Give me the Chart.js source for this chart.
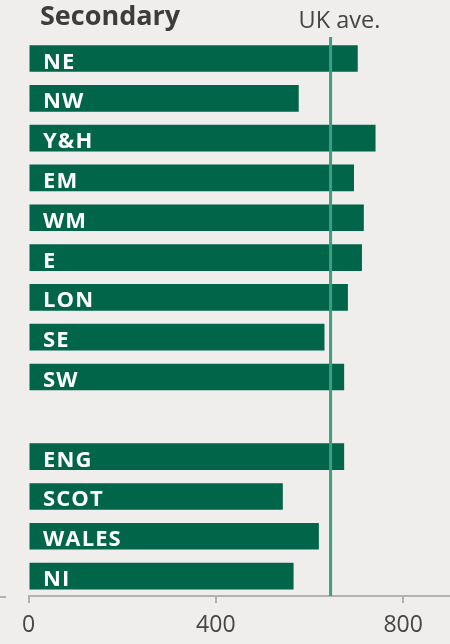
<!DOCTYPE html>
<html>
<head>
<meta charset="utf-8">
<script src="https://cdn.jsdelivr.net/npm/chart.js@4.4.1/dist/chart.umd.min.js"></script>
<style>
  html, body { margin: 0; padding: 0; background: #efeeec; }
  #wrap { width: 450px; height: 644px; position: relative; }
</style>
</head>
<body>
<div id="wrap"><canvas id="secondary"></canvas></div>
<script>
const regions = ["NE", "NW", "Y&H", "EM", "WM", "E", "LON", "SE", "SW", "", "ENG", "SCOT", "WALES", "NI"];
const spending = [703, 577, 741, 695, 716, 712, 682, 632, 674, null, 674, 543, 620, 566];
const ukAverage = 645;
const xTicks = [0, 400, 800];
const chartTitle = "Secondary";
const avgLabel = "UK ave.";

const green = "#01654a";
const teal = "#3f9d84";

// labels inside the bars, the UK average line and the title
const overlay = {
  id: "overlay",
  afterDatasetsDraw(chart) {
    const ctx = chart.ctx;
    const x = chart.scales.x;
    const y = chart.scales.y;
    ctx.save();

    ctx.font = "bold 22px 'Open Sans'";
    ctx.letterSpacing = "1.1px";
    ctx.fillStyle = "#ffffff";
    ctx.textAlign = "left";
    ctx.textBaseline = "alphabetic";
    regions.forEach((r, i) => {
      if (!r) return;
      ctx.fillText(r, 43, y.getPixelForValue(i) + 10);
    });
    ctx.letterSpacing = "0px";

    const ax = x.getPixelForValue(ukAverage);
    ctx.strokeStyle = teal;
    ctx.lineWidth = 3;
    ctx.beginPath();
    ctx.moveTo(ax, 37);
    ctx.lineTo(ax, chart.chartArea.bottom);
    ctx.stroke();

    ctx.fillStyle = "#454545";
    ctx.font = "23.5px 'Open Sans'";
    ctx.fillText(avgLabel, ax - 32, 28);

    ctx.fillStyle = "#3c3c3c";
    ctx.font = "bold 27px 'Open Sans'";
    ctx.fillText(chartTitle, 40, 25);

    ctx.strokeStyle = "#b3b3b3";
    ctx.lineWidth = 2;
    ctx.beginPath();
    ctx.moveTo(0, chart.chartArea.bottom + 1);
    ctx.lineTo(6, chart.chartArea.bottom + 1);
    ctx.stroke();
    ctx.restore();
  }
};

new Chart(document.getElementById("secondary"), {
  type: "bar",
  data: {
    labels: regions,
    datasets: [{
      data: spending,
      backgroundColor: green,
      barPercentage: 0.67,
      categoryPercentage: 1
    }]
  },
  options: {
    indexAxis: "y",
    responsive: true,
    maintainAspectRatio: false,
    animation: false,
    layout: { padding: { left: 28.5, top: 38.6, right: 0, bottom: 0 } },
    plugins: { legend: { display: false }, tooltip: { enabled: false } },
    scales: {
      y: { display: false },
      x: {
        min: 0,
        max: 900,
        afterBuildTicks: (s) => { s.ticks = xTicks.map(v => ({ value: v })); },
        afterFit: (s) => { s.height = 48; },
        border: { display: true, color: "#b3b3b3", width: 2 },
        grid: { drawOnChartArea: false, drawTicks: true, tickLength: 7, color: "#b0b0b0", lineWidth: 2 },
        ticks: { color: "#454545", font: { family: "'Open Sans'", size: 23 }, padding: 9, maxRotation: 0 }
      }
    }
  },
  plugins: [overlay]
});
</script>
</body>
</html>
